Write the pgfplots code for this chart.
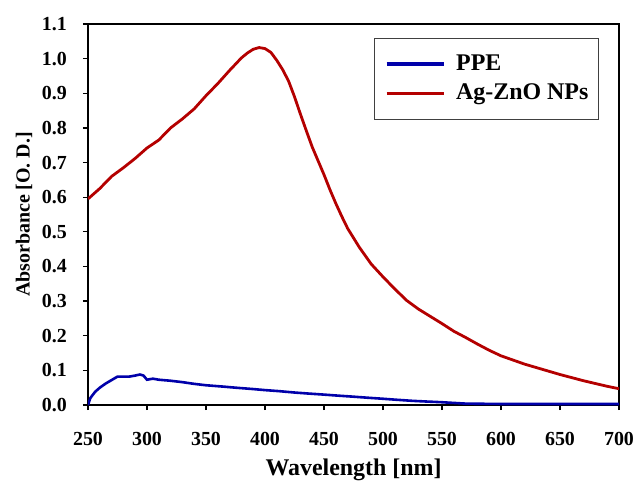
\documentclass[border=0pt]{standalone}
\usepackage{fontspec}
\setmainfont{Liberation Serif}
\usepackage{pgfplots}
\pgfplotsset{compat=1.18}

\definecolor{agzno}{RGB}{180,0,0}
\definecolor{ppe}{RGB}{0,0,170}

\begin{document}
\begin{tikzpicture}
\begin{axis}[
  at={(0,0)}, anchor=south west,
  scale only axis, width=531bp, height=381bp,
  xmin=250, xmax=700, ymin=0, ymax=1.1,
  xtick={250,300,350,400,450,500,550,600,650,700},
  ytick={0,0.1,0.2,0.3,0.4,0.5,0.6,0.7,0.8,0.9,1.0,1.1},
  xtick pos=bottom, ytick pos=left,
  tick align=outside, major tick length=5bp,
  tick style={black, line width=1.2bp},
  axis line style={black, line width=2.5bp},
  /pgf/number format/assume math mode=true,
  ticklabel style={font=\fontsize{20}{24}\selectfont\bfseries, inner sep=0pt},
  xticklabel style={anchor=base, yshift=-35bp},
  yticklabel style={anchor=east, xshift=-16bp,
    /pgf/number format/.cd, fixed, fixed zerofill, precision=1},
  xlabel={Wavelength [nm]},
  ylabel={Absorbance [O. D.]},
  xlabel style={font=\fontsize{24}{28}\selectfont\bfseries,
    at={(axis description cs:0.5,-0.184)}, anchor=base},
  ylabel style={font=\fontsize{20}{24}\selectfont\bfseries,
    at={(axis description cs:-0.1205,0.5)}, anchor=center},
  legend style={at={(axis description cs:0.5386,0.9633)}, anchor=north west,
    draw=black!75, line width=0.9bp, inner xsep=10.5bp, inner ysep=14.6bp,
    column sep=11bp, row sep=7.7bp,
    font=\fontsize{24}{28}\selectfont\bfseries,
    nodes={inner sep=0pt, text height=17bp, text depth=5bp}},
  legend cell align=left,
  legend image code/.code={\draw[#1, line width=3.2bp] (0bp,0bp) -- (57bp,0bp);},
]
% PPE extract
\addplot[ppe, line width=2.6bp] coordinates {
(250,0.000) (252,0.020) (256,0.038) (260,0.050) (265,0.062) (270,0.072)
(275,0.082) (280,0.082) (285,0.082) (290,0.085) (294,0.088) (297,0.085)
(300,0.073) (305,0.076) (310,0.073) (320,0.070) (330,0.066) (340,0.061)
(350,0.057) (365,0.053) (375,0.050) (390,0.046) (400,0.043) (412,0.040)
(425,0.036) (437,0.033) (450,0.030) (462,0.027) (475,0.024) (487,0.021)
(500,0.018) (512,0.015) (525,0.012) (537,0.010) (550,0.008) (560,0.006)
(570,0.004) (600,0.003) (650,0.003) (700,0.003)
};
\addlegendentry{PPE}
% Ag-ZnO nanoparticles
\addplot[agzno, line width=2.8bp] coordinates {
(250,0.595) (260,0.625) (270,0.660) (280,0.685) (290,0.712) (300,0.742)
(310,0.765) (320,0.800) (330,0.826) (340,0.855) (350,0.893) (360,0.928)
(370,0.966) (380,1.002) (385,1.016) (390,1.027) (395,1.032) (400,1.029)
(405,1.018) (410,0.995) (415,0.968) (420,0.935) (425,0.890) (430,0.840)
(435,0.792) (440,0.745) (445,0.705) (450,0.665) (455,0.622) (460,0.582)
(465,0.545) (470,0.510) (480,0.455) (490,0.407) (500,0.370) (510,0.335)
(520,0.302) (530,0.277) (540,0.256) (550,0.235) (560,0.213) (570,0.195)
(580,0.176) (590,0.158) (600,0.142) (610,0.130) (620,0.118) (630,0.108)
(640,0.098) (650,0.088) (660,0.079) (670,0.070) (680,0.062) (690,0.054)
(700,0.047)
};
\addlegendentry{Ag-ZnO NPs}
\end{axis}
\pgfresetboundingbox
\path[use as bounding box] (-88bp,-77bp) rectangle (547bp,405bp);
\end{tikzpicture}
\end{document}
